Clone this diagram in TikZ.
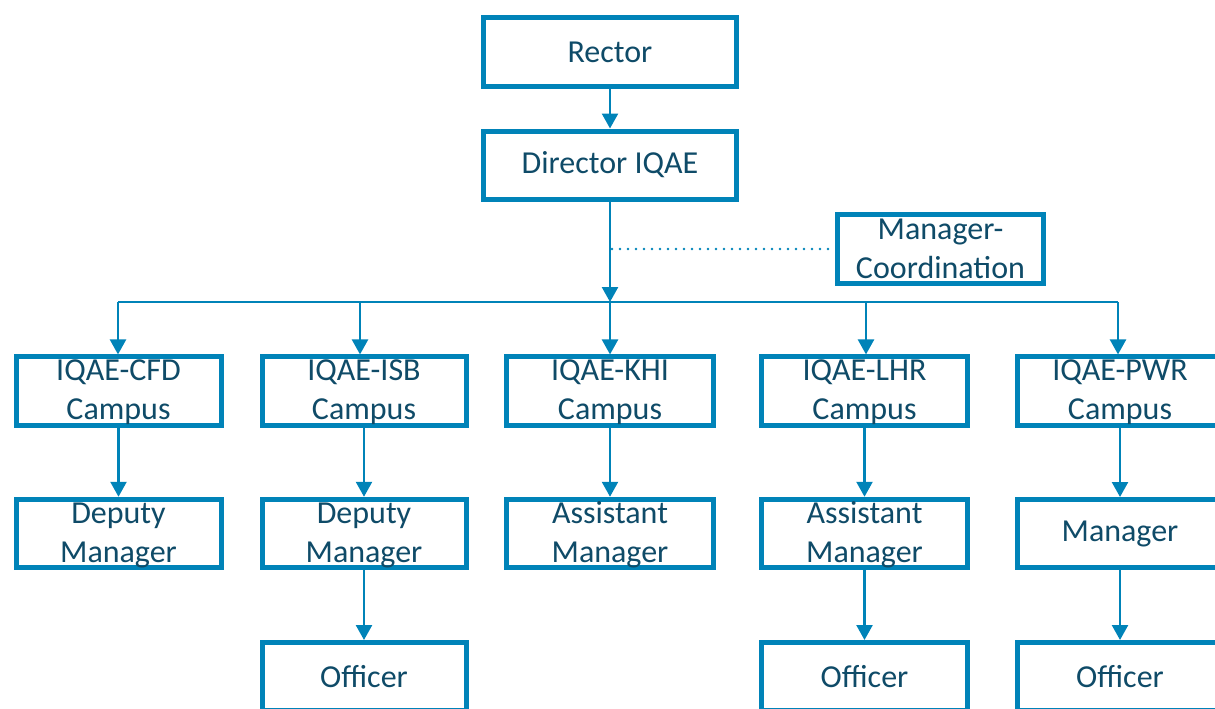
\documentclass[tikz,border=0pt]{standalone}
\usepackage{fontspec}
\setmainfont{Carlito}
\usetikzlibrary{arrows.meta}
\definecolor{bord}{HTML}{0083B8}
\definecolor{txt}{HTML}{0F4B68}
\newcommand\twoline[2]{\rule{0pt}{24pt}#1\\#2\rule[-5pt]{0pt}{5pt}}
\begin{document}
\begin{tikzpicture}[x=1pt,y=-1pt,
 box/.style={draw=bord, line width=5pt, fill=white, inner sep=0pt, align=center, text=txt,
   font=\fontsize{32}{39}\selectfont, minimum height=68pt},
 conn/.style={draw=bord, line width=2.5pt, -{Triangle[width=16pt,length=15pt]}},
 busline/.style={draw=bord, line width=2.2pt},
 dotline/.style={draw=bord, line width=2.6pt, line cap=round, dash pattern=on 0pt off 8pt}]
\useasboundingbox (0,0) rectangle (1215,709);
% top
\node[box, minimum width=253pt] (rector) at (610,52) {Rector};
\node[box, minimum width=253pt] (director) at (610,165) {Director IQAE};
\node[box, minimum width=206pt, minimum height=69pt] (mgrc) at (940.5,249) {\twoline{Manager-}{Coordination}};
% row 1
\node[box, minimum width=205pt] (cfd) at (118.5,391) {\twoline{IQAE-CFD}{Campus}};
\node[box, minimum width=204pt] (isb) at (364,391) {\twoline{IQAE-ISB}{Campus}};
\node[box, minimum width=207pt] (khi) at (610,391) {\twoline{IQAE-KHI}{Campus}};
\node[box, minimum width=206pt] (lhr) at (864.5,391) {\twoline{IQAE-LHR}{Campus}};
\node[box, minimum width=205pt] (pwr) at (1120,391) {\twoline{IQAE-PWR}{Campus}};
% row 2
\node[box, minimum width=205pt] (cfd2) at (118.5,533.5) {\twoline{Deputy}{Manager}};
\node[box, minimum width=204pt] (isb2) at (364,533.5) {\twoline{Deputy}{Manager}};
\node[box, minimum width=207pt] (khi2) at (610,533.5) {\twoline{Assistant}{Manager}};
\node[box, minimum width=206pt] (lhr2) at (864.5,533.5) {\twoline{Assistant}{Manager}};
\node[box, minimum width=205pt] (pwr2) at (1120,533.5) {\raisebox{-2pt}{Manager}};
% row 3
\node[box, minimum width=204pt] (isb3) at (364,676.5) {Officer};
\node[box, minimum width=206pt] (lhr3) at (864.5,676.5) {Officer};
\node[box, minimum width=205pt] (pwr3) at (1120,676.5) {Officer};
% coordinates
\coordinate (busc) at (610,302);
\coordinate (bcfd) at (118,302);
\coordinate (bisb) at (360,302);
\coordinate (blhr) at (866,302);
\coordinate (bpwr) at (1118,302);
\coordinate (dots) at (612,249);
% connectors
\draw[conn] (rector.south) -- (director.north);
\draw[dotline] (dots) -- (mgrc.west);
\draw[busline] (bcfd) -- (bpwr);
\draw[conn] (director.south) -- (busc);
\draw[conn] (bcfd) -- (bcfd |- cfd.north);
\draw[conn] (bisb) -- (bisb |- isb.north);
\draw[conn] (busc) -- (khi.north);
\draw[conn] (blhr) -- (blhr |- lhr.north);
\draw[conn] (bpwr) -- (bpwr |- pwr.north);
\draw[conn] (cfd.south) -- (cfd2.north);
\draw[conn] (isb.south) -- (isb2.north);
\draw[conn] (khi.south) -- (khi2.north);
\draw[conn] (lhr.south) -- (lhr2.north);
\draw[conn] (pwr.south) -- (pwr2.north);
\draw[conn] (isb2.south) -- (isb3.north);
\draw[conn] (lhr2.south) -- (lhr3.north);
\draw[conn] (pwr2.south) -- (pwr3.north);
\end{tikzpicture}
\end{document}
